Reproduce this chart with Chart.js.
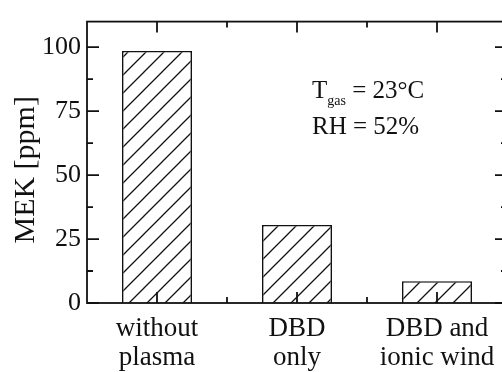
<!DOCTYPE html>
<html>
<head>
<meta charset="utf-8">
<script src="https://cdn.jsdelivr.net/npm/chart.js@4"></script>
<style>
  html, body { margin: 0; padding: 0; background: #fff; overflow: hidden; }
  #wrap { position: absolute; left: 0; top: 0; width: 520px; height: 372px; }
</style>
</head>
<body>
<div id="wrap"><canvas id="chart" width="520" height="372"></canvas></div>
<script>
/* ---- data ---- */
const categories = [['without', 'plasma'], ['DBD', 'only'], ['DBD and', 'ionic wind']];
const mekValues = [98.5, 30.5, 8.5];
const yTicks = [0, 25, 50, 75, 100];
const yMinorTicks = [12.5, 37.5, 62.5, 87.5];
const xMinorTicks = [0.5, 1.5];
const yMax = 110;

const SERIF = '"Liberation Serif", "DejaVu Serif", serif';

// "/" hatch fill for the bars
function hatchPattern() {
  const s = 18;
  const c = document.createElement('canvas');
  c.width = s; c.height = s;
  const g = c.getContext('2d');
  g.fillStyle = '#fff';
  g.fillRect(0, 0, s, s);
  g.strokeStyle = '#111';
  g.lineWidth = 1.3;
  g.beginPath();
  g.moveTo(-2, s + 2); g.lineTo(s + 2, -2);
  g.moveTo(-2, 2); g.lineTo(2, -2);
  g.moveTo(s - 2, s + 2); g.lineTo(s + 2, s - 2);
  g.stroke();
  return g.createPattern(c, 'repeat');
}

// closed frame with inward ticks on all four sides, plus the text box
const framePlugin = {
  id: 'frame',
  afterDraw(chart) {
    const { ctx, chartArea: a, scales: { x, y } } = chart;
    ctx.save();
    ctx.strokeStyle = '#111';
    ctx.lineWidth = 1.8;
    ctx.strokeRect(a.left, a.top, a.right - a.left, a.bottom - a.top);
    ctx.beginPath();
    const yTick = (v, len) => {
      const py = y.getPixelForValue(v);
      ctx.moveTo(a.left, py); ctx.lineTo(a.left + len, py);
      ctx.moveTo(a.right, py); ctx.lineTo(a.right - len, py);
    };
    const xTick = (px, len) => {
      ctx.moveTo(px, a.bottom); ctx.lineTo(px, a.bottom - len);
      ctx.moveTo(px, a.top); ctx.lineTo(px, a.top + len);
    };
    yTicks.forEach((v) => yTick(v, 12));
    yMinorTicks.forEach((v) => yTick(v, 6));
    categories.forEach((c, i) => xTick(x.getPixelForValue(i), 11));
    xMinorTicks.forEach((v) => {
      const px = (x.getPixelForValue(Math.floor(v)) + x.getPixelForValue(Math.ceil(v))) / 2;
      xTick(px, 6);
    });
    ctx.stroke();

    // T_gas = 23°C / RH = 52%
    const tx = x.getPixelForValue(1) + 15;
    const ty1 = y.getPixelForValue(80.2);
    const ty2 = y.getPixelForValue(66);
    ctx.fillStyle = '#111';
    ctx.textBaseline = 'alphabetic';
    ctx.textAlign = 'left';
    ctx.font = '25px ' + SERIF;
    ctx.fillText('T', tx, ty1);
    let cx = tx + ctx.measureText('T').width;
    ctx.font = '14px ' + SERIF;
    ctx.fillText('gas', cx, ty1 + 7);
    cx += ctx.measureText('gas').width;
    ctx.font = '25px ' + SERIF;
    ctx.fillText(' = 23°C', cx, ty1);
    ctx.fillText('RH = 52%', tx, ty2);
    ctx.restore();
  },
};

new Chart(document.getElementById('chart'), {
  type: 'bar',
  data: {
    labels: categories,
    datasets: [{
      data: mekValues,
      backgroundColor: hatchPattern(),
      borderColor: '#111',
      borderWidth: 1.6,
      borderSkipped: 'bottom',
      barPercentage: 0.5,
      categoryPercentage: 1,
    }],
  },
  options: {
    responsive: false,
    animation: false,
    layout: { padding: { top: 14, right: 13, left: 0, bottom: 0 } },
    plugins: { legend: { display: false }, tooltip: { enabled: false } },
    scales: {
      x: {
        offset: true,
        grid: { display: false, drawTicks: false },
        border: { display: false },
        ticks: { color: '#111', padding: 11, maxRotation: 0, font: { family: SERIF, size: 27, lineHeight: 1.08 } },
        afterFit: (s) => { s.height = 69; },
      },
      y: {
        min: 0,
        max: yMax,
        grid: { display: false, drawTicks: false },
        border: { display: false },
        ticks: { color: '#111', padding: 6, font: { family: SERIF, size: 26 } },
        afterBuildTicks: (s) => { s.ticks = yTicks.map((v) => ({ value: v })); },
        // two trailing spaces nudge the rotated title down a little, as in the figure
        title: { display: true, text: 'MEK [ppm]  ', color: '#111', padding: { top: 8, bottom: 0 }, font: { family: SERIF, size: 30 } },
        afterFit: (s) => { s.width = 87; },
      },
    },
  },
  plugins: [framePlugin],
});
</script>
</body>
</html>
